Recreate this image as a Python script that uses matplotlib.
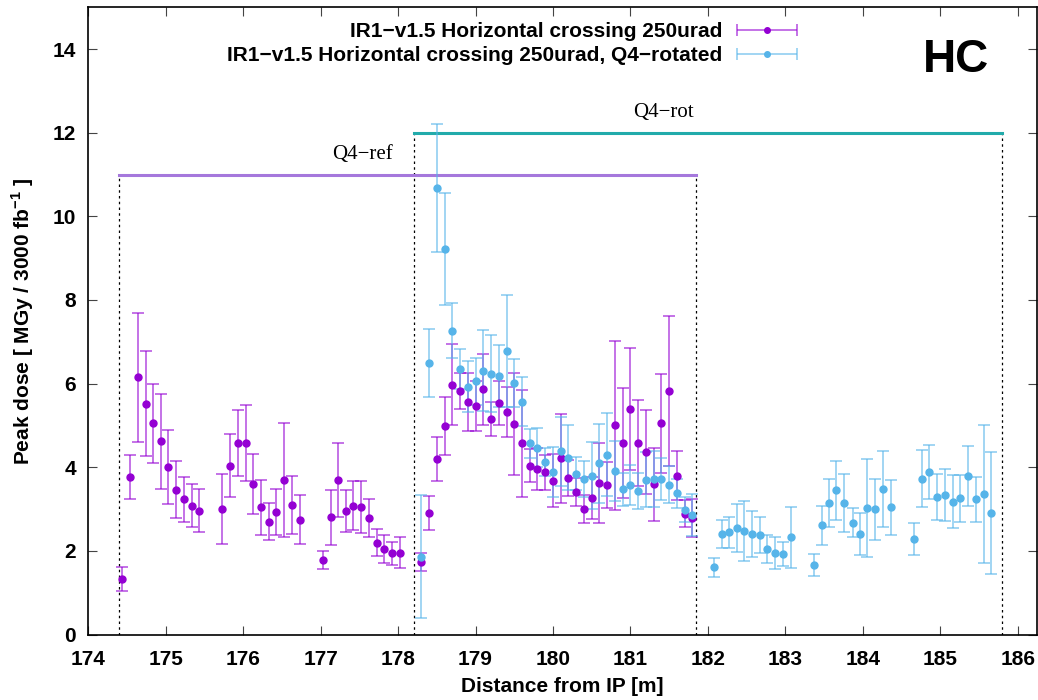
import numpy as np
import matplotlib
matplotlib.use("Agg")
import matplotlib.pyplot as plt
from matplotlib.container import ErrorbarContainer
from matplotlib.legend_handler import HandlerErrorbar

plt.rcParams["font.family"] = ["Liberation Sans", "DejaVu Sans"]
plt.rcParams["font.weight"] = "bold"
plt.rcParams["mathtext.fontset"] = "custom"
plt.rcParams["mathtext.bf"] = "Liberation Sans:bold"
plt.rcParams["mathtext.rm"] = "Liberation Sans:bold"

# --- data ---
ref_x = [174.44, 174.54, 174.64, 174.74, 174.84, 174.94, 175.03, 175.13, 175.23, 175.34,
         175.43, 175.73, 175.83, 175.93, 176.03, 176.13, 176.23, 176.33, 176.43, 176.53,
         176.63, 176.73, 177.03, 177.13, 177.23, 177.33, 177.42, 177.52, 177.62, 177.73,
         177.82, 177.92, 178.02, 178.30, 178.40, 178.50, 178.60, 178.70, 178.80, 178.90,
         179.00, 179.10, 179.20, 179.30, 179.40, 179.50, 179.60, 179.70, 179.80, 179.90,
         180.00, 180.10, 180.20, 180.30, 180.40, 180.50, 180.60, 180.70, 180.80, 180.90,
         181.00, 181.10, 181.20, 181.30, 181.40, 181.50, 181.60, 181.70, 181.80]
ref_dose = [1.32, 3.77, 6.15, 5.52, 5.05, 4.62, 4.00, 3.46, 3.23, 3.08,
            2.96, 3.01, 4.04, 4.57, 4.57, 3.60, 3.04, 2.70, 2.94, 3.70,
            3.09, 2.75, 1.78, 2.80, 3.70, 2.95, 3.08, 3.05, 2.78, 2.20,
            2.05, 1.94, 1.95, 1.73, 2.91, 4.20, 4.99, 5.97, 5.83, 5.56,
            5.46, 5.86, 5.16, 5.54, 5.32, 5.03, 4.57, 4.04, 3.96, 3.88,
            3.68, 4.21, 3.75, 3.41, 3.00, 3.26, 3.62, 3.57, 5.00, 4.58,
            5.39, 4.58, 4.37, 3.59, 5.05, 5.82, 3.80, 2.89, 2.78]
ref_err = [0.29, 0.53, 1.54, 1.25, 0.95, 1.14, 0.89, 0.68, 0.54, 0.52,
           0.52, 0.84, 0.75, 0.79, 0.91, 0.71, 0.66, 0.45, 0.55, 1.36,
           0.69, 0.59, 0.21, 0.65, 0.89, 0.51, 0.58, 0.62, 0.45, 0.32,
           0.33, 0.27, 0.37, 0.22, 0.40, 0.53, 0.69, 0.97, 0.43, 0.70,
           0.60, 0.86, 0.41, 0.53, 0.60, 1.22, 1.27, 0.40, 0.51, 0.42,
           0.64, 1.07, 0.43, 0.34, 0.34, 0.50, 0.95, 0.55, 2.03, 1.32,
           1.46, 1.02, 1.00, 0.87, 1.18, 1.79, 0.59, 0.32, 0.45]

rot_x = [178.30, 178.40, 178.50, 178.60, 178.70, 178.80, 178.90, 179.00, 179.10, 179.20,
         179.30, 179.40, 179.50, 179.60, 179.70, 179.80, 179.90, 180.00, 180.10, 180.20,
         180.30, 180.40, 180.50, 180.60, 180.70, 180.80, 180.90, 181.00, 181.10, 181.20,
         181.30, 181.40, 181.50, 181.60, 181.70, 181.80, 182.08, 182.18, 182.27, 182.37,
         182.47, 182.57, 182.67, 182.77, 182.87, 182.97, 183.07, 183.37, 183.47, 183.57,
         183.66, 183.76, 183.87, 183.97, 184.06, 184.16, 184.26, 184.36, 184.66, 184.76,
         184.86, 184.96, 185.06, 185.16, 185.26, 185.36, 185.46, 185.56, 185.65]
rot_dose = [1.86, 6.50, 10.68, 9.22, 7.27, 6.34, 5.93, 6.06, 6.31, 6.24,
            6.19, 6.78, 6.02, 5.57, 4.57, 4.47, 4.13, 3.88, 4.38, 4.23,
            3.85, 3.73, 3.80, 4.09, 4.30, 3.91, 3.47, 3.58, 3.43, 3.70,
            3.72, 3.71, 3.58, 3.38, 2.98, 2.86, 1.61, 2.40, 2.44, 2.55,
            2.47, 2.41, 2.38, 2.05, 1.95, 1.93, 2.32, 1.66, 2.61, 3.15,
            3.45, 3.14, 2.67, 2.40, 3.02, 2.99, 3.49, 3.04, 2.29, 3.73,
            3.89, 3.29, 3.34, 3.18, 3.26, 3.79, 3.23, 3.36, 2.90]
rot_err = [1.47, 0.81, 1.53, 1.33, 0.66, 0.48, 0.61, 0.56, 0.97, 0.92,
           0.74, 1.35, 0.58, 0.59, 0.35, 0.46, 0.34, 0.60, 0.82, 0.77,
           0.39, 0.43, 0.80, 0.95, 0.99, 0.72, 0.40, 0.48, 0.43, 0.66,
           0.67, 0.50, 0.44, 0.35, 0.30, 0.51, 0.23, 0.34, 0.36, 0.57,
           0.72, 0.55, 0.44, 0.34, 0.38, 0.28, 0.73, 0.26, 0.46, 0.58,
           0.71, 0.69, 0.35, 0.50, 1.17, 0.73, 0.91, 0.65, 0.38, 0.69,
           0.64, 0.56, 0.63, 0.64, 0.56, 0.72, 0.54, 1.66, 1.46]

# magnet regions: (start, end, level, label)
q4ref = (174.4, 181.85, 11.0, "Q4\u2212ref")
q4rot = (178.2, 185.8, 12.0, "Q4\u2212rot")

label_ref = "IR1\u2212v1.5 Horizontal crossing 250urad"
label_rot = "IR1\u2212v1.5 Horizontal crossing 250urad, Q4\u2212rotated"

PURPLE = "#9400d3"
CYAN = "#56b4e9"

fig = plt.figure(figsize=(10.38, 7.0), dpi=100)
ax = fig.add_axes([88.3 / 1038, 1 - 634.5 / 700, (1037 - 88.3) / 1038, (634.5 - 7.3) / 700])

# region markers
for (x0, x1, lev, _), col in [(q4ref, "#a578dc"), (q4rot, "#22abab")]:
    ax.plot([x0, x1], [lev, lev], color=col, lw=2.2, zorder=2)
    for xv in (x0, x1):
        ax.plot([xv, xv], [0, lev], color="black", lw=0.9, dashes=(2, 2.6), zorder=1)
ax.text(177.54, 11.49, q4ref[3], family="Liberation Serif", weight="normal",
        fontsize=15, ha="center", va="center")
ax.text(181.42, 12.48, q4rot[3], family="Liberation Serif", weight="normal",
        fontsize=15, ha="center", va="center")

eb_kw = dict(fmt="o", ms=5, capsize=4, elinewidth=1.1, capthick=1.1, zorder=3)
for xs, ys, es, col in [(ref_x, ref_dose, ref_err, PURPLE), (rot_x, rot_dose, rot_err, CYAN)]:
    ecol = matplotlib.colors.to_rgba(col, 0.7)
    ax.errorbar(xs, ys, yerr=es, color=col, ecolor=ecol, mec=col, mfc=col, **eb_kw)

# legend proxies (horizontal error bar like gnuplot's key)
proxies = []
for col, lab in [(PURPLE, label_ref), (CYAN, label_rot)]:
    ecol = matplotlib.colors.to_rgba(col, 0.7)
    p = ax.errorbar([np.nan], [np.nan], xerr=[1], fmt="o", ms=4, color=col, ecolor=ecol,
                    mec=col, mfc=col, capsize=4, elinewidth=1.1, capthick=1.1, label=lab)
    proxies.append(p)
ax.legend(handles=proxies, loc="upper right", bbox_to_anchor=(797 / 1038, 1 - 22 / 700),
          bbox_transform=fig.transFigure, frameon=False, markerfirst=False,
          fontsize=15, handlelength=2.9, handletextpad=0.7, labelspacing=0.25,
          borderpad=0, borderaxespad=0,
          handler_map={ErrorbarContainer: HandlerErrorbar(xerr_size=1.45)})

ax.text(956, 700 - 60, "HC", transform=None, fontsize=33, weight="bold",
        ha="center", va="center")

ax.set_xlim(174, 186.25)
ax.set_ylim(0, 15)
ax.set_xticks(np.arange(174, 187, 1))
ax.set_yticks(np.arange(0, 15, 2))
ax.tick_params(direction="in", length=6.5, width=0.8, color="#444444", top=True, right=True,
               labelsize=15)
ax.tick_params(axis="x", pad=11)
ax.tick_params(axis="y", pad=9)
for s in ax.spines.values():
    s.set_linewidth(1.2)

ax.set_xlabel("Distance from IP [m]", fontsize=15, weight="bold", labelpad=6)
ax.set_ylabel(r"Peak dose [ MGy / 3000 fb$^{\mathbf{-1}}$ ]", fontsize=15, weight="bold",
              labelpad=12)

fig.savefig("out.png", dpi=100)
